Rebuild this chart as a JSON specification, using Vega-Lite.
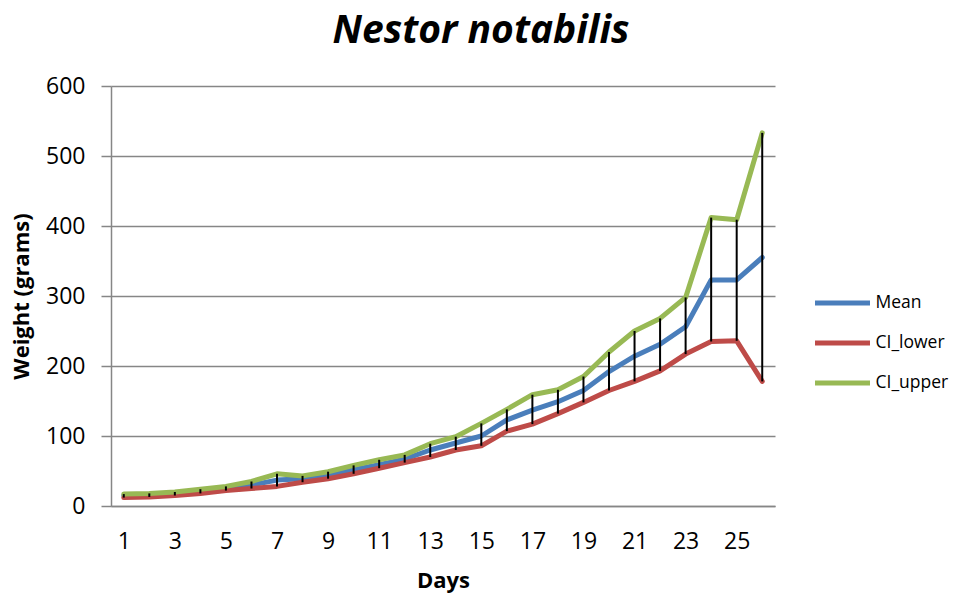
{
  "$schema": "https://vega.github.io/schema/vega-lite/v6.json",
  "width": 664,
  "height": 420,
  "autosize": {"type": "none"},
  "padding": {"left": 111, "top": 86, "right": 181, "bottom": 91},
  "background": "white",
  "config": {"view": {"stroke": null}},
  "title": {"text": "Nestor notabilis", "font": "Open Sans", "fontSize": 39, "fontStyle": "italic", "fontWeight": "bold", "anchor": "middle", "dx": 38, "offset": 24, "color": "black"},
  "data": {"values": [
    {"day": 1, "Mean": 15, "CI_lower": 12, "CI_upper": 17},
    {"day": 2, "Mean": 16, "CI_lower": 13, "CI_upper": 18},
    {"day": 3, "Mean": 18, "CI_lower": 15, "CI_upper": 20},
    {"day": 4, "Mean": 21, "CI_lower": 18, "CI_upper": 24},
    {"day": 5, "Mean": 25, "CI_lower": 22, "CI_upper": 28},
    {"day": 6, "Mean": 30, "CI_lower": 25, "CI_upper": 35},
    {"day": 7, "Mean": 37, "CI_lower": 28, "CI_upper": 46},
    {"day": 8, "Mean": 39, "CI_lower": 34, "CI_upper": 43},
    {"day": 9, "Mean": 44, "CI_lower": 39, "CI_upper": 49},
    {"day": 10, "Mean": 52, "CI_lower": 46, "CI_upper": 58},
    {"day": 11, "Mean": 59, "CI_lower": 54, "CI_upper": 66},
    {"day": 12, "Mean": 67, "CI_lower": 62, "CI_upper": 73},
    {"day": 13, "Mean": 80, "CI_lower": 70, "CI_upper": 89},
    {"day": 14, "Mean": 90, "CI_lower": 80, "CI_upper": 99},
    {"day": 15, "Mean": 100, "CI_lower": 86, "CI_upper": 118},
    {"day": 16, "Mean": 123, "CI_lower": 107, "CI_upper": 138},
    {"day": 17, "Mean": 137, "CI_lower": 117, "CI_upper": 159},
    {"day": 18, "Mean": 149, "CI_lower": 132, "CI_upper": 166},
    {"day": 19, "Mean": 165, "CI_lower": 148, "CI_upper": 185},
    {"day": 20, "Mean": 192, "CI_lower": 165, "CI_upper": 220},
    {"day": 21, "Mean": 214, "CI_lower": 178, "CI_upper": 250},
    {"day": 22, "Mean": 231, "CI_lower": 193, "CI_upper": 268},
    {"day": 23, "Mean": 256, "CI_lower": 217, "CI_upper": 298},
    {"day": 24, "Mean": 323, "CI_lower": 235, "CI_upper": 412},
    {"day": 25, "Mean": 323, "CI_lower": 236, "CI_upper": 409},
    {"day": 26, "Mean": 355, "CI_lower": 178, "CI_upper": 533}
  ]},
  "layer": [
    {
      "transform": [{"fold": ["Mean", "CI_lower", "CI_upper"], "as": ["series", "value"]}],
      "mark": {"type": "line", "strokeWidth": 5, "strokeJoin": "round", "strokeCap": "round"},
      "encoding": {
        "x": {"field": "day", "type": "quantitative",
          "scale": {"domain": [0.5, 26.5], "nice": false, "zero": false},
          "axis": {"values": [1,3,5,7,9,11,13,15,17,19,21,23,25], "ticks": false, "grid": false,
            "domainColor": "#868686", "domainWidth": 1.5,
            "labelFont": "Open Sans", "labelFontSize": 23, "labelColor": "black", "labelPadding": 24,
            "labelFlush": false, "labelOverlap": false,
            "title": "Days", "titleFont": "Open Sans", "titleFontSize": 22, "titleFontWeight": "bold", "titleColor": "black", "titlePadding": 17}},
        "y": {"field": "value", "type": "quantitative",
          "scale": {"domain": [0, 600], "nice": false},
          "axis": {"values": [0,100,200,300,400,500,600], "tickSize": 10, "tickColor": "#868686", "tickWidth": 1.5,
            "grid": true, "gridColor": "#868686", "gridWidth": 1.5,
            "domainColor": "#868686", "domainWidth": 1.5,
            "labelFont": "Open Sans", "labelFontSize": 23, "labelColor": "black", "labelPadding": 16,
            "title": "Weight (grams)", "titleFont": "Open Sans", "titleFontSize": 22, "titleFontWeight": "bold", "titleColor": "black", "titlePadding": 12}},
        "color": {"field": "series", "type": "nominal",
          "scale": {"domain": ["Mean", "CI_lower", "CI_upper"], "range": ["#4A7EBB", "#BE4B48", "#98B954"]},
          "legend": {"orient": "none", "legendX": 701.5, "legendY": 187, "title": null,
            "symbolType": "stroke", "symbolSize": 3025, "symbolStrokeWidth": 5,
            "labelFont": "Open Sans", "labelFontSize": 17.5, "labelColor": "black", "labelOffset": 3,
            "rowPadding": -18, "padding": 0}}
      }
    },
    {
      "mark": {"type": "rule", "color": "black", "strokeWidth": 2},
      "encoding": {
        "x": {"field": "day", "type": "quantitative"},
        "y": {"field": "CI_lower", "type": "quantitative"},
        "y2": {"field": "CI_upper"}
      }
    }
  ]
}
